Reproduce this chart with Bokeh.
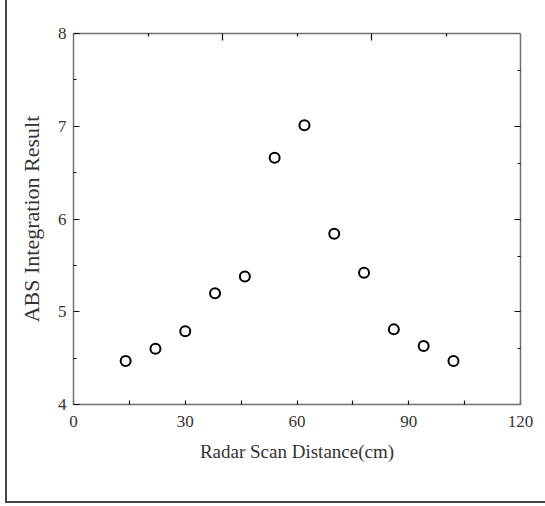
from bokeh.plotting import figure
from bokeh.models import LinearAxis, FixedTicker, Range1d
from bokeh.embed import file_html
from bokeh.resources import INLINE

distance_cm = [14, 22, 30, 38, 46, 54, 62, 70, 78, 86, 94, 102]
abs_result = [4.47, 4.60, 4.79, 5.20, 5.38, 6.66, 7.01, 5.84, 5.42, 4.81, 4.63, 4.47]

x_major = [0, 30, 60, 90, 120]
x_minor = [15, 45, 75, 105]
y_major = [4, 5, 6, 7, 8]
y_minor = [4.5, 5.5, 6.5, 7.5]
top_major = [40, 80]
top_minor = [20, 60, 100]
right_major = [5, 6, 7]
right_minor = [4.6, 5.6, 6.6, 7.6]

FONT = "Liberation Serif"
TXT = "#333333"
AX = "#707070"

p = figure(width=545, height=506, output_backend="svg", toolbar_location=None,
           x_range=Range1d(0, 120), y_range=Range1d(4, 8),
           min_border_left=73, min_border_right=25, min_border_top=33, min_border_bottom=102,
           x_axis_label="Radar Scan Distance(cm)", y_axis_label="ABS Integration Result")
p.grid.visible = False
p.outline_line_color = None
p.background_fill_color = "white"
p.border_fill_color = None
p.styles = {
    "background-color": "white",
    "background-image": "linear-gradient(#444444, #444444), linear-gradient(#444444, #444444)",
    "background-size": "2px 503px, 540px 2px",
    "background-position": "5px 0px, 5px 501px",
    "background-repeat": "no-repeat",
}

def style(ax, major, minor, maj_len, min_len, labels=True):
    ax.ticker = FixedTicker(ticks=major, minor_ticks=minor)
    ax.axis_line_color = AX
    ax.axis_line_width = 1.5
    ax.major_tick_line_color = "#111111"
    ax.minor_tick_line_color = "#111111"
    ax.major_tick_line_width = 1.2
    ax.minor_tick_line_width = 1.2
    ax.major_tick_in = maj_len
    ax.major_tick_out = 0
    ax.minor_tick_in = min_len
    ax.minor_tick_out = 0
    ax.major_label_text_font = FONT
    ax.major_label_text_font_size = "17px"
    ax.major_label_text_color = TXT
    ax.axis_label_text_font = FONT
    ax.axis_label_text_font_size = "19px"
    ax.axis_label_text_font_style = "normal"
    ax.axis_label_text_color = TXT
    if not labels:
        ax.major_label_text_font_size = "0px"
        ax.major_label_text_alpha = 0

xa = p.xaxis[0]
style(xa, x_major, x_minor, 4, 4)
xa.major_label_standoff = 11
xa.axis_label_standoff = 11

ya = p.yaxis[0]
style(ya, y_major, y_minor, 6, 3)
ya.major_label_standoff = 7
ya.axis_label_standoff = 11
ya.axis_label_text_font_size = "22px"

top = LinearAxis()
style(top, top_major, top_minor, 7, 3, labels=False)
p.add_layout(top, "above")

right = LinearAxis()
style(right, right_major, right_minor, 6, 3, labels=False)
p.add_layout(right, "right")

p.scatter(distance_cm, abs_result, marker="circle", size=10,
          fill_color="white", line_color="black", line_width=2)

open("out.html", "w").write(file_html(p, INLINE))
